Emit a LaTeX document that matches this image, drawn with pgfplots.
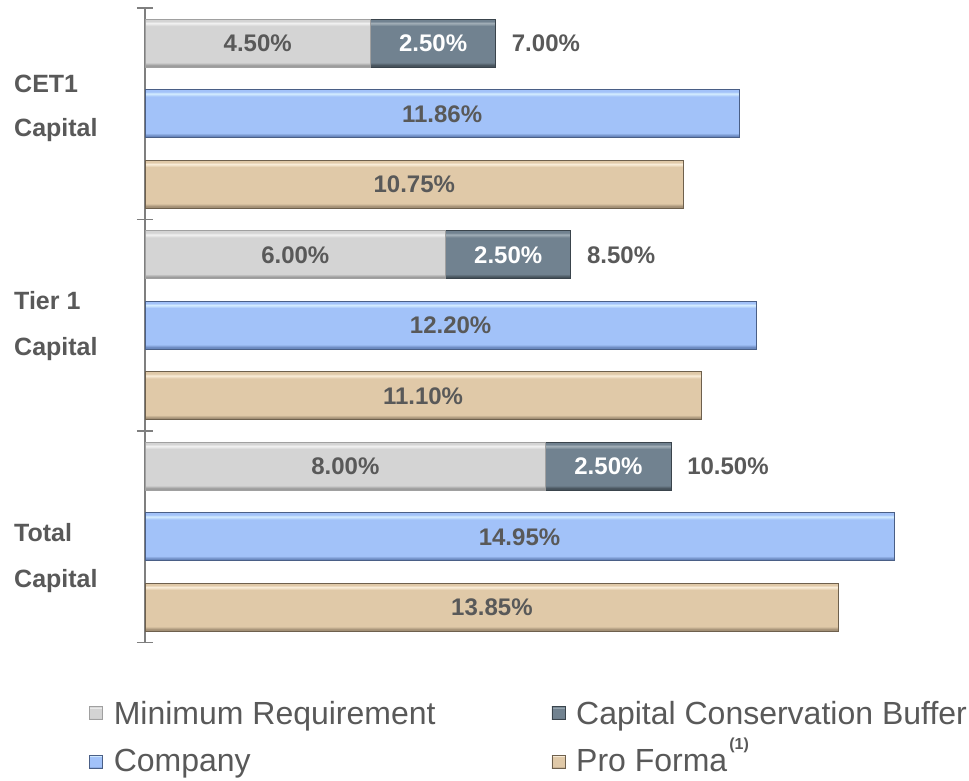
\documentclass[border=0pt]{standalone}
\usepackage{fontspec}
\setmainfont{Liberation Sans}
\usepackage{pgfplots}
\pgfplotsset{compat=1.18}
\definecolor{txt}{HTML}{595959}
\definecolor{axgray}{HTML}{7F7F7F}
% Minimum requirement
\definecolor{minT}{HTML}{F2F2F2}
\definecolor{minM}{HTML}{D4D4D4}
\definecolor{minB}{HTML}{9C9C9C}
\definecolor{minE}{HTML}{A0A0A0}
% Buffer
\definecolor{bufT}{HTML}{A3B0B9}
\definecolor{bufM}{HTML}{718290}
\definecolor{bufB}{HTML}{46525B}
\definecolor{bufE}{HTML}{3A444C}
% Company
\definecolor{comT}{HTML}{D6EEFF}
\definecolor{comM}{HTML}{A2C2F9}
\definecolor{comB}{HTML}{6A88BE}
\definecolor{comE}{HTML}{4A5F86}
% Pro Forma
\definecolor{proT}{HTML}{FBEEDA}
\definecolor{proM}{HTML}{E0C9A8}
\definecolor{proB}{HTML}{A39076}
\definecolor{proE}{HTML}{6E604D}
\pgfdeclareverticalshading{minsh}{100bp}{color(0bp)=(minB); color(27bp)=(minB); color(30bp)=(minM); color(68bp)=(minM); color(71bp)=(minT); color(73bp)=(minM); color(100bp)=(minM)}
\pgfdeclareverticalshading{bufsh}{100bp}{color(0bp)=(bufB); color(27bp)=(bufB); color(30bp)=(bufM); color(68bp)=(bufM); color(71bp)=(bufT); color(73bp)=(bufM); color(100bp)=(bufM)}
\pgfdeclareverticalshading{comsh}{100bp}{color(0bp)=(comB); color(27bp)=(comB); color(30bp)=(comM); color(68bp)=(comM); color(71bp)=(comT); color(73bp)=(comM); color(100bp)=(comM)}
\pgfdeclareverticalshading{prosh}{100bp}{color(0bp)=(proB); color(27bp)=(proB); color(30bp)=(proM); color(68bp)=(proM); color(71bp)=(proT); color(73bp)=(proM); color(100bp)=(proM)}
\newcommand\mybar[4]{\addplot[xbar, bar width=0.68, bar shift=0pt, forget plot, draw=#4, line width=0.8pt, shading=#3] coordinates {(#1,#2)};}
\begin{document}
\begin{tikzpicture}
\path[use as bounding box] (0,0) rectangle (969pt,-781pt);
\begin{axis}[
  at={(145pt,-8pt)}, anchor=north west,
  scale only axis, width=801.6pt, height=634.5pt,
  xmin=0, xmax=16, ymin=0.5, ymax=9.5, y dir=reverse,
  hide x axis,
  axis y line*=left,
  y axis line style={axgray, line width=1.2pt},
  ytick={0.5,3.5,6.5,9.5}, yticklabels={},
  tick align=center, major tick length=16pt,
  ytick style={axgray, line width=1.2pt},
  clip=false,
  legend columns=2,
  legend cell align=left,
  legend style={at={(-0.0735,-0.0855)}, anchor=north west, draw=none, fill=none,
    font=\fontsize{32}{36}\selectfont, text=txt,
    row sep=20pt,
    /tikz/every even column/.append style={column sep=114pt}},
  legend image code/.code={\draw[#1, line width=0.6pt] (0pt,-6.5pt) rectangle (13pt,6.5pt);\path (22pt,0pt);},
]
% legend entries
\addlegendimage{draw=minE, shading=minsh}
\addlegendentry{Minimum Requirement}
\addlegendimage{draw=bufE, shading=bufsh}
\addlegendentry{Capital Conservation Buffer}
\addlegendimage{draw=comE, shading=comsh}
\addlegendentry{Company}
\addlegendimage{draw=proE, shading=prosh}
\addlegendentry{Pro Forma\hspace{2pt}\smash{\raisebox{22pt}{\fontsize{16}{16}\selectfont\bfseries(1)}}}

% Buffer bars (drawn as the total, then covered by the minimum)
\mybar{7.00}{1}{bufsh}{bufE}
\mybar{8.50}{4}{bufsh}{bufE}
\mybar{10.50}{7}{bufsh}{bufE}
% Minimum requirement
\mybar{4.50}{1}{minsh}{minE}
\mybar{6.00}{4}{minsh}{minE}
\mybar{8.00}{7}{minsh}{minE}
% Company
\mybar{11.86}{2}{comsh}{comE}
\mybar{12.20}{5}{comsh}{comE}
\mybar{14.95}{8}{comsh}{comE}
% Pro Forma
\mybar{10.75}{3}{prosh}{proE}
\mybar{11.10}{6}{prosh}{proE}
\mybar{13.85}{9}{prosh}{proE}

\tikzset{lbl/.style={font=\fontsize{24}{28}\selectfont\bfseries, text=txt, inner sep=0pt}}
% minimum labels
\node[lbl] at (axis cs:2.25,1) {4.50\%};
\node[lbl] at (axis cs:3.00,4) {6.00\%};
\node[lbl] at (axis cs:4.00,7) {8.00\%};
% buffer labels
\node[lbl, text=white] at (axis cs:5.75,1) {2.50\%};
\node[lbl, text=white] at (axis cs:7.25,4) {2.50\%};
\node[lbl, text=white] at (axis cs:9.25,7) {2.50\%};
% totals
\node[lbl, anchor=west] at ([xshift=16pt]axis cs:7.00,1) {7.00\%};
\node[lbl, anchor=west] at ([xshift=16pt]axis cs:8.50,4) {8.50\%};
\node[lbl, anchor=west] at ([xshift=16pt]axis cs:10.50,7) {10.50\%};
% company
\node[lbl] at (axis cs:5.93,2) {11.86\%};
\node[lbl] at (axis cs:6.10,5) {12.20\%};
\node[lbl] at (axis cs:7.475,8) {14.95\%};
% pro forma
\node[lbl] at (axis cs:5.375,3) {10.75\%};
\node[lbl] at (axis cs:5.55,6) {11.10\%};
\node[lbl] at (axis cs:6.925,9) {13.85\%};
\end{axis}
\tikzset{grp/.style={font=\fontsize{25}{30}\selectfont\bfseries, text=txt, inner sep=0pt, anchor=base west}}
\node[grp] at (14pt,-93pt) {CET1};
\node[grp] at (14pt,-137pt) {Capital};
\node[grp] at (14pt,-309pt) {Tier 1};
\node[grp] at (14pt,-355pt) {Capital};
\node[grp] at (14pt,-541pt) {Total};
\node[grp] at (14pt,-587pt) {Capital};
\end{tikzpicture}
\end{document}
